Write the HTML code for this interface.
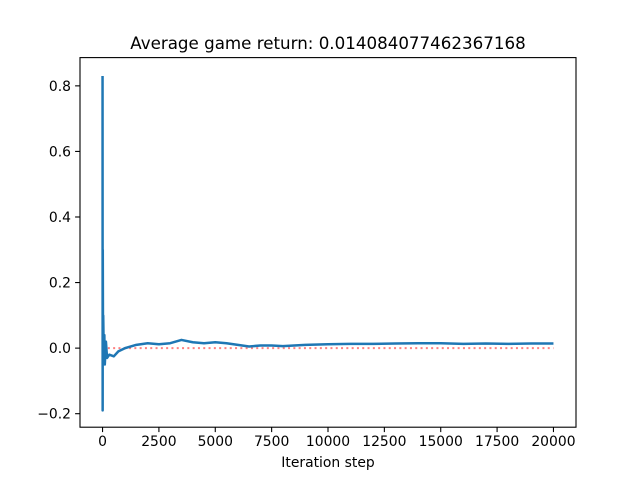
<!DOCTYPE html>
<html><head><meta charset="utf-8"><style>
body{margin:0;background:#fff;}
svg text{font-family:"DejaVu Sans","Liberation Sans",sans-serif;}
</style></head><body>
<svg id="chart" width="640" height="480" xmlns="http://www.w3.org/2000/svg">
<rect width="640" height="480" fill="#fff"/>
<text x="328" y="49" font-size="16.7" text-anchor="middle">Average game return: 0.014084077462367168</text>
<g id="plot"></g>
<rect x="80" y="57.6" width="496" height="369.6" fill="none" stroke="#000" stroke-width="1.1"/>
<text x="328" y="467" font-size="13.9" text-anchor="middle">Iteration step</text>
</svg>
<script>
const steps=[0,5,10,20,30,50,80,100,150,200,300,500,700,1000,1500,2000,2500,3000,3500,4000,4500,5000,5500,6000,6500,7000,7500,8000,8500,9000,10000,11000,12000,13000,14000,15000,16000,17000,18000,19000,20000];
const returns=[0.83,-0.19,0.3,0.05,0.1,0.0,0.04,-0.05,0.02,-0.03,-0.02,-0.025,-0.01,0.0,0.01,0.015,0.012,0.015,0.025,0.018,0.015,0.018,0.015,0.01,0.005,0.008,0.008,0.006,0.008,0.01,0.012,0.013,0.013,0.014,0.015,0.015,0.013,0.014,0.013,0.014,0.014];
const xTicks=[0,2500,5000,7500,10000,12500,15000,17500,20000];
const yTicks=[-0.2,0,0.2,0.4,0.6,0.8];
const yLabels=["−0.2","0.0","0.2","0.4","0.6","0.8"];
const refLine=[0,0];
const xMin=-1000,xMax=21000,yMin=-0.2412,yMax=0.8862;
const X=v=>80+(v-xMin)/(xMax-xMin)*496;
const Y=v=>427.2-(v-yMin)/(yMax-yMin)*369.6;
const NS="http://www.w3.org/2000/svg";
const g=document.getElementById('plot');
function mk(t,a){const e=document.createElementNS(NS,t);for(const k in a)e.setAttribute(k,a[k]);g.appendChild(e);return e;}
xTicks.forEach(t=>{
 const l=mk('line',{x1:X(t),x2:X(t),y1:427.2,y2:432.1,stroke:'#000','stroke-width':1.1});
 
 
 const tx=mk('text',{x:X(t),y:446,'font-size':13.9,'text-anchor':'middle'});tx.textContent=t;
 
 
});
yTicks.forEach((t,i)=>{
 const l=mk('line',{x1:75.1,x2:80,y1:Y(t),y2:Y(t),stroke:'#000','stroke-width':1.1});
 
 
 const tx=mk('text',{x:71,y:Y(t)+5,'font-size':13.9,'text-anchor':'end'});tx.textContent=yLabels[i];
 
 
});
const ref=mk('line',{x1:X(steps[0]),x2:X(steps[steps.length-1]),y1:Y(refLine[0]),y2:Y(refLine[1]),stroke:'#ff0000','stroke-opacity':0.5,'stroke-width':2,'stroke-dasharray':'2,3.3'});


const p=mk('polyline',{points:steps.map((s,i)=>X(s)+','+Y(returns[i])).join(' '),fill:'none',stroke:'#1f77b4','stroke-width':2.5,'stroke-linejoin':'round'});


</script>
</body></html>
